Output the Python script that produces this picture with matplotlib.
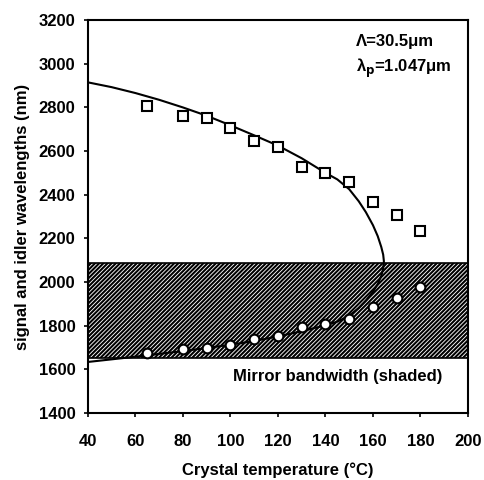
import numpy as np
import matplotlib
matplotlib.use("Agg")
import matplotlib.pyplot as plt

plt.rcParams['font.family'] = ['Liberation Sans', 'DejaVu Sans']
plt.rcParams['font.weight'] = 'bold'
plt.rcParams['hatch.linewidth'] = 1.5

# measured points
temp = [65, 80, 90, 100, 110, 120, 130, 140, 150, 160, 170, 180]
idler = [2806, 2762, 2750, 2707, 2646, 2619, 2529, 2501, 2460, 2366, 2305, 2234]
signal = [1674, 1693, 1697, 1711, 1738, 1751, 1793, 1805, 1830, 1885, 1926, 1979]

# theory curve (upper branch then lower branch)
curve_t = [40, 50, 60, 70, 80, 90, 100, 110, 120, 130, 140, 145, 150, 154, 157, 160, 162, 163.5, 164.3, 164.6,
           164.3, 163.5, 162, 160, 157, 154, 150, 145, 140, 130, 120, 110, 100, 90, 80, 70, 60, 50, 40]
curve_l = [2915, 2893, 2866, 2835, 2800, 2762, 2718, 2672, 2625, 2567, 2500, 2470, 2425, 2370, 2320, 2260, 2210, 2160, 2125, 2095,
           2062, 2028, 1990, 1955, 1914, 1880, 1845, 1818, 1801, 1774, 1750, 1729, 1712, 1697, 1683, 1670, 1657, 1645, 1633]

band_lo, band_hi = 1650, 2085

fig = plt.figure(figsize=(4.85, 4.8), dpi=100)
ax = fig.add_axes([0.181, 0.14, 0.784, 0.818])

ax.fill_between([40, 200], band_lo, band_hi, facecolor='white', edgecolor='black',
                hatch='////////', linewidth=1.2, zorder=1)
ax.plot(curve_t, curve_l, color='black', lw=1.5, zorder=2)
ax.plot(temp, idler, 's', ms=7, mfc='white', mec='black', mew=1.5, zorder=3)
ax.plot(temp, signal, 'o', ms=7, mfc='white', mec='black', mew=1.5, zorder=3)

ax.set_xlim(40, 200)
ax.set_ylim(1400, 3200)
ax.set_xticks(np.arange(40, 201, 20))
ax.set_yticks(np.arange(1400, 3201, 200))
ax.tick_params(labelsize=12, length=3, width=1.2, direction='out')
ax.tick_params(axis='x', pad=12)
ax.tick_params(axis='y', pad=6)
for s in ax.spines.values():
    s.set_linewidth(1.5)

ax.set_xlabel('Crystal temperature (°C)', fontsize=12, fontweight='bold', labelpad=10)
ax.set_ylabel('signal and idler wavelengths (nm)', fontsize=12, fontweight='bold', labelpad=6)

ax.text(153, 3100, 'Λ=30.5μm', fontsize=12, fontweight='bold', va='center')
ax.text(153, 2980, 'λ$_\\mathbf{p}$=1.047μm', fontsize=12, fontweight='bold', va='center')
ax.text(145, 1566, 'Mirror bandwidth (shaded)', fontsize=12, fontweight='bold', ha='center', va='center')

fig.savefig('out.png', dpi=100)
